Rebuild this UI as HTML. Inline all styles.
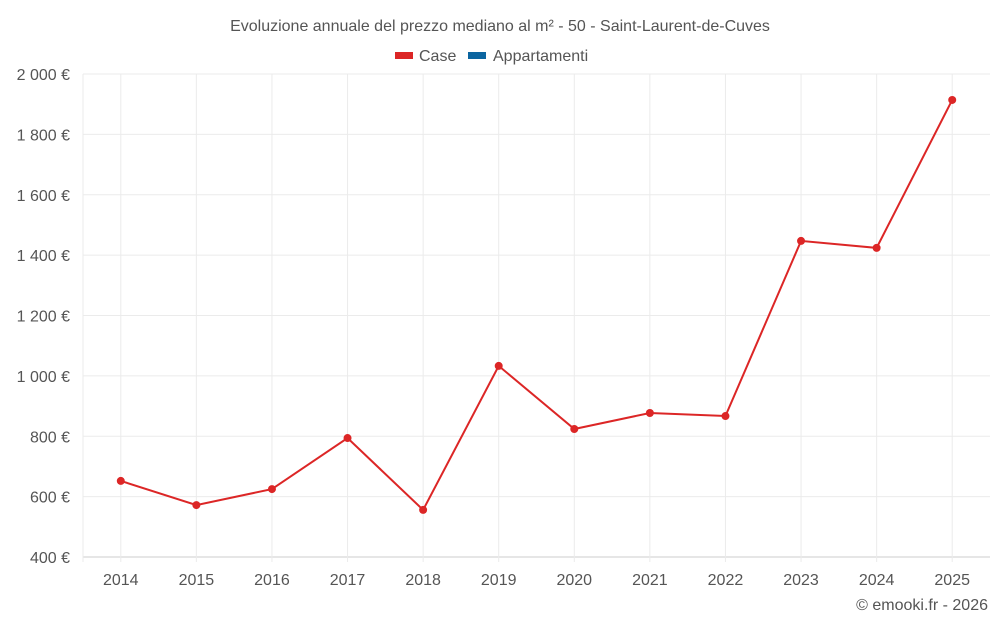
<!DOCTYPE html>
<html><head><meta charset="utf-8"><style>
body{margin:0;background:#fff;font-family:"Liberation Sans",sans-serif;}
svg text{font-family:"Liberation Sans",sans-serif;}
</style></head><body>
<svg width="1000" height="625">
<text x="500" y="31" text-anchor="middle" font-size="16" fill="#555">Evoluzione annuale del prezzo mediano al m² - 50 - Saint-Laurent-de-Cuves</text>
<g><rect x="395" y="52" width="18" height="7" fill="#dc2626"/><text x="419" y="61" font-size="16" fill="#555">Case</text></g>
<g><rect x="468" y="52" width="18" height="7" fill="#0b65a0"/><text x="493" y="61" font-size="16" fill="#555">Appartamenti</text></g>
<g id="grid"></g><g id="axes"></g><g id="series"></g>
<text x="988" y="610" text-anchor="end" font-size="16" fill="#555">© emooki.fr - 2026</text>
</svg>
<script>
const years=["2014","2015","2016","2017","2018","2019","2020","2021","2022","2023","2024","2025"];
const caseValues=[652,572,625,794,556,1033,824,877,867,1447,1424,1914];
const yTicks=[400,600,800,1000,1200,1400,1600,1800,2000];
const yTickLabels=["400 €","600 €","800 €","1 000 €","1 200 €","1 400 €","1 600 €","1 800 €","2 000 €"];
const L=83,R=990,T=74,B=557,ymin=400,ymax=2000;
const bw=(R-L)/years.length;
const x=i=>L+bw*(i+0.5);
const y=v=>B-(v-ymin)/(ymax-ymin)*(B-T);
const ns="http://www.w3.org/2000/svg";
function mk(t,a,p){const e=document.createElementNS(ns,t);for(const k in a)e.setAttribute(k,a[k]);p.appendChild(e);return e;}
const g=document.getElementById('grid'),ax=document.getElementById('axes'),s=document.getElementById('series');
yTicks.forEach((v,i)=>{
 const l=mk('line',{x1:L,x2:R,y1:y(v),y2:y(v),stroke:i==0?'#ccc':'#ebebeb'},g);
 
 
 const t=mk('text',{x:70,y:y(v)+6,'text-anchor':'end','font-size':16,fill:'#555'},ax);
 t.textContent=yTickLabels[i];
 
 
});
const l0=mk('line',{x1:L,x2:L,y1:T,y2:B+5,stroke:'#ebebeb'},g);


years.forEach((yr,i)=>{
 const l=mk('line',{x1:x(i),x2:x(i),y1:T,y2:B+5,stroke:'#ebebeb'},g);
 
 
 const t=mk('text',{x:x(i),y:585,'text-anchor':'middle','font-size':16,fill:'#555'},ax);
 t.textContent=yr;
 
 
});
const p=mk('polyline',{points:caseValues.map((v,i)=>x(i)+','+y(v)).join(' '),fill:'none',stroke:'#dc2626','stroke-width':2},s);


caseValues.forEach((v,i)=>{
 const c=mk('circle',{cx:x(i),cy:y(v),r:4,fill:'#dc2626'},s);
 
 
});
</script>
</body></html>
